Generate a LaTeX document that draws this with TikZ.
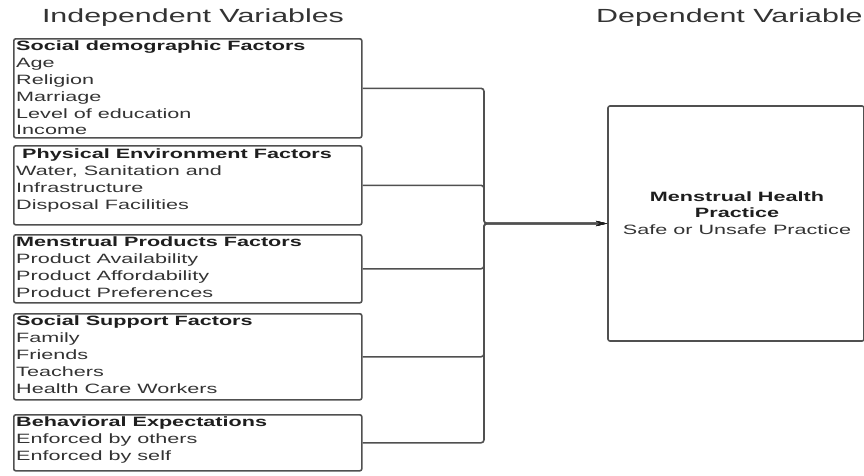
\documentclass[tikz,border=0pt]{standalone}
\usepackage{fontspec}
\setmainfont{Liberation Sans}[FakeStretch=1.6]
\usetikzlibrary{arrows.meta,positioning}

\definecolor{linegray}{HTML}{505050}
\definecolor{textgray}{HTML}{333333}
\definecolor{headgray}{HTML}{1E1E1E}

\tikzset{
  factorbox/.style={draw=linegray, line width=1.6pt, rounded corners=2pt,
    minimum width=348pt, anchor=north west, inner sep=0pt},
  factortext/.style={anchor=north west, align=left, text=textgray, inner sep=0pt,
    font=\fontsize{13.5}{16.8}\selectfont},
  conn/.style={draw=linegray, line width=1.6pt, rounded corners=3pt,
    -{Stealth[length=11pt,width=5pt,color=headgray]}},
  vartitle/.style={text=textgray, inner sep=0pt, font=\fontsize{19}{22}\selectfont}
}
\newcommand{\head}[1]{\textbf{\color{headgray}#1}}

\begin{document}
\begin{tikzpicture}[x=1pt, y=-1pt]
    \useasboundingbox (0,0) rectangle (864,475);

    % Titel
    \node[vartitle] (indep) at (193,18) {Independent Variables};
    \node[vartitle, anchor=west] (dep) at (596,18) {Dependent Variable};

    % Einflussfaktoren (links)
    \node[factorbox, minimum height=99pt] (sd) at (13,38) {};
    \node[factorbox, minimum height=79pt] (pe) at (13,145) {};
    \node[factorbox, minimum height=68pt] (mp) at (13,234) {};
    \node[factorbox, minimum height=86pt] (ss) at (13,313) {};
    \node[factorbox, minimum height=56pt] (be) at (13,414) {};

    \node[factortext] (sdtext) at ([xshift=3pt,yshift=-3pt]sd.north west)
        {\head{Social demographic Factors}\\Age\\Religion\\Marriage\\Level of education\\Income};
    \node[factortext] (petext) at ([xshift=3pt,yshift=-4pt]pe.north west)
        {\hspace{6pt}\head{Physical Environment Factors}\\Water, Sanitation and\\Infrastructure\\Disposal Facilities};
    \node[factortext] (mptext) at ([xshift=3pt,yshift=-3pt]mp.north west)
        {\head{Menstrual Products Factors}\\Product Availability\\Product Affordability\\Product Preferences};
    \node[factortext] (sstext) at ([xshift=3pt,yshift=-3pt]ss.north west)
        {\head{Social Support Factors}\\Family\\Friends\\Teachers\\Health Care Workers};
    \node[factortext] (betext) at ([xshift=3pt,yshift=-3pt]be.north west)
        {\head{Behavioral Expectations}\\Enforced by others\\Enforced by self};

    % Zielgröße (rechts)
    \node[draw=linegray, line width=1.6pt, rounded corners=2pt, minimum width=256pt,
          minimum height=235pt, inner sep=0pt] (mhp) at (736,223.5) {};
    \node[align=center, text=textgray, inner sep=0pt,
          font=\fontsize{13.5}{16.5}\selectfont] (mhptext) at (737,213)
        {\head{Menstrual Health}\\\head{Practice}\\Safe or Unsafe Practice};

    % Verbindungen
    \coordinate (bus) at (484,223.5);
    \foreach \f in {sd,pe,mp,ss,be}
        \draw[conn] (\f.east) -| (bus) -- (mhp.west);
\end{tikzpicture}
\end{document}
